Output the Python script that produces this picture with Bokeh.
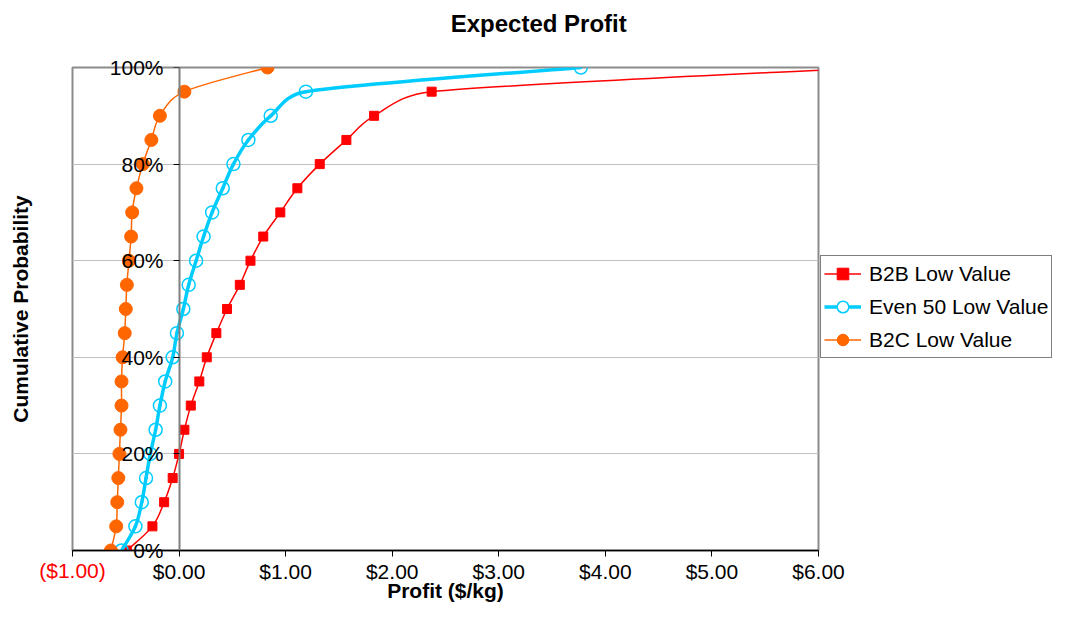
import math
from bokeh.plotting import figure
from bokeh.layouts import row
from bokeh.models import (Range1d, LinearAxis, FixedTicker, Grid, Legend, LegendItem,
                          ColumnDataSource)
from bokeh.embed import file_html
from bokeh.resources import INLINE

# ---------------- data ----------------
cum_prob = [0, 5, 10, 15, 20, 25, 30, 35, 40, 45, 50, 55, 60, 65, 70, 75, 80, 85, 90, 95, 100]

b2b_low = [-0.49, -0.25, -0.14, -0.06, 0.00, 0.05, 0.11, 0.19, 0.26, 0.35, 0.45,
           0.57, 0.67, 0.79, 0.95, 1.11, 1.32, 1.57, 1.83, 2.37, 6.50]
even50_low = [-0.54, -0.41, -0.35, -0.31, -0.27, -0.22, -0.18, -0.13, -0.06, -0.02, 0.04,
              0.09, 0.16, 0.23, 0.31, 0.41, 0.51, 0.65, 0.86, 1.19, 3.77]
b2c_low = [-0.64, -0.59, -0.58, -0.57, -0.56, -0.55, -0.54, -0.54, -0.53, -0.51, -0.50,
           -0.49, -0.47, -0.45, -0.44, -0.40, -0.34, -0.26, -0.18, 0.05, 0.83]

series_names = ["B2B Low Value", "Even 50 Low Value", "B2C Low Value"]
series_colors = ["#ff0000", "#00ccff", "#ff6600"]

x_ticks = [-1, 0, 1, 2, 3, 4, 5, 6]
x_tick_labels = ["($1.00)", "$0.00", "$1.00", "$2.00", "$3.00", "$4.00", "$5.00", "$6.00"]
y_ticks = [0, 20, 40, 60, 80, 100]
y_tick_labels = ["0%", "20%", "40%", "60%", "80%", "100%"]

chart_title = "Expected Profit"
x_title = "Profit ($/kg)"
y_title = "Cumulative Probability"

# ---------------- layout ----------------
W, H = 1052, 604
LEG_X, LEG_W = 820, 232                    # legend panel overlaid at the right
FL, FR, FT, FB = 72, 818, 67, 551          # frame edges in px
X0, X1 = -1, 6
Y0, Y1 = 0, 100
FONT = "Liberation Sans"
TICK_FS = "21px"

p = figure(width=W, height=H, output_backend="svg", toolbar_location=None, title=None,
           x_range=Range1d(X0, X1), y_range=Range1d(Y0, Y1),
           x_axis_location=None, y_axis_location=None,
           min_border_left=FL, min_border_right=W - FR, min_border_top=FT,
           min_border_bottom=H - FB,
           background_fill_color="white", border_fill_color="white")
p.center = [c for c in p.center if not isinstance(c, Grid)]

p.outline_line_color = "#8c8c8c"
p.outline_line_width = 2

# horizontal gridlines
p.add_layout(Grid(dimension=1, ticker=FixedTicker(ticks=y_ticks),
                  grid_line_color="#c0c0c0", grid_line_width=1))

# ---- chart title, centred over the whole chart (incl. legend) ----
SX = (FR - FL) / (X1 - X0)
SY = (FB - FT) / (Y1 - Y0)
title_x = 3.375  # data x under the centre of the full chart width
title_axis = LinearAxis(ticker=FixedTicker(ticks=[title_x]),
                        major_label_overrides={title_x: chart_title},
                        major_label_text_font=FONT, major_label_text_font_size="24px",
                        major_label_text_font_style="bold", major_label_text_color="black",
                        major_label_standoff=31,
                        axis_line_color=None, major_tick_line_color=None,
                        major_tick_in=0, major_tick_out=0, minor_tick_out=0, minor_tick_in=0)
p.add_layout(title_axis, "above")

# ---- x axis: row A carries ticks + red negative label ----
LBL_EXT = 25
xaxis_a = LinearAxis(ticker=FixedTicker(ticks=x_ticks),
                     major_label_overrides=dict(zip(x_ticks, x_tick_labels[:1] + [""] * 7)),
                     major_label_text_font=FONT, major_label_text_font_size=TICK_FS,
                     major_label_text_color="#ff0000", major_label_standoff=2,
                     axis_line_color="black", axis_line_width=1.5,
                     major_tick_line_color="black", major_tick_in=0, major_tick_out=6,
                     minor_tick_out=0, minor_tick_in=0)
p.add_layout(xaxis_a, "below")

# ---- x axis: row B carries the black labels (pulled up onto row A) + title ----
xaxis_b = LinearAxis(ticker=FixedTicker(ticks=x_ticks[1:]),
                     major_label_overrides=dict(zip(x_ticks[1:], x_tick_labels[1:])),
                     major_label_text_font=FONT, major_label_text_font_size=TICK_FS,
                     major_label_text_color="black", major_label_standoff=-LBL_EXT,
                     axis_line_color=None, major_tick_line_color=None,
                     major_tick_in=0, major_tick_out=0, minor_tick_out=0, minor_tick_in=0,
                     axis_label=x_title, axis_label_standoff=-7,
                     axis_label_text_font=FONT, axis_label_text_font_size="21px",
                     axis_label_text_font_style="bold", axis_label_text_color="black")
p.add_layout(xaxis_b, "below")

# ---- y axis line + ticks crossing at x = 0 ----
yaxis = LinearAxis(fixed_location=0, ticker=FixedTicker(ticks=y_ticks),
                   major_label_text_font_size="0px", major_label_text_color=None,
                   axis_line_color="#7f7f7f", axis_line_width=2,
                   major_tick_line_color="black", major_tick_in=0, major_tick_out=6,
                   minor_tick_out=0, minor_tick_in=0)
p.add_layout(yaxis, "left")

# ---- y axis title at the far left ----
YLAB_STANDOFF = 41
ylab = LinearAxis(ticker=FixedTicker(ticks=[]), axis_label=y_title,
                  axis_label_text_font=FONT, axis_label_text_font_size="21px",
                  axis_label_text_font_style="bold", axis_label_text_color="black",
                  axis_label_standoff=YLAB_STANDOFF, major_label_standoff=0,
                  axis_line_color=None, major_tick_out=0, major_tick_in=0,
                  minor_tick_out=0, minor_tick_in=0, major_label_text_font_size="0px")
p.add_layout(ylab, "left")

# ---- y tick labels: outer left axis whose labels are pushed inward to x = 0 ----
ylab_size = YLAB_STANDOFF + 26
ytl = LinearAxis(ticker=FixedTicker(ticks=y_ticks),
                 major_label_overrides=dict(zip(y_ticks, y_tick_labels)),
                 major_label_text_font=FONT, major_label_text_font_size=TICK_FS,
                 major_label_text_color="black",
                 major_label_standoff=-(163 - (FL - ylab_size)),
                 axis_line_color=None, major_tick_line_color=None,
                 major_tick_in=0, major_tick_out=0, minor_tick_out=0, minor_tick_in=0)
p.add_layout(ytl, "left")


# ---------------- smoothed lines (Excel-like smoothing) ----------------
def smooth_segments(xs, ys):
    n = len(xs)
    P = [(x * SX, y * SY) for x, y in zip(xs, ys)]

    def d(a, b):
        return math.hypot(a[0] - b[0], a[1] - b[1])

    out = dict(x0=[], y0=[], x1=[], y1=[], cx0=[], cy0=[], cx1=[], cy1=[])
    for i in range(n - 1):
        p0 = P[max(i - 1, 0)]
        p1 = P[i]
        p2_ = P[i + 1]
        p3 = P[min(i + 2, n - 1)]
        d12 = d(p1, p2_)
        d02 = d(p0, p2_)
        d13 = d(p1, p3)
        f1 = 1 / 6.0
        if d02 > 0 and d02 / 6.0 > d12 / 2.0:
            f1 = d12 / 2.0 / d02
        f2 = 1 / 6.0
        if d13 > 0 and d13 / 6.0 > d12 / 2.0:
            f2 = d12 / 2.0 / d13
        c1 = (p1[0] + (p2_[0] - p0[0]) * f1, p1[1] + (p2_[1] - p0[1]) * f1)
        c2 = (p2_[0] - (p3[0] - p1[0]) * f2, p2_[1] - (p3[1] - p1[1]) * f2)
        out["x0"].append(p1[0] / SX); out["y0"].append(p1[1] / SY)
        out["x1"].append(p2_[0] / SX); out["y1"].append(p2_[1] / SY)
        out["cx0"].append(c1[0] / SX); out["cy0"].append(c1[1] / SY)
        out["cx1"].append(c2[0] / SX); out["cy1"].append(c2[1] / SY)
    return ColumnDataSource(out)


styles = [
    dict(width=1.5, marker="square", msize=9, mfill="#ff0000", mlw=1, leg_fill="#ff0000"),
    dict(width=3.5, marker="circle", msize=13, mfill=None, mlw=1.5, leg_fill="white"),
    dict(width=1.5, marker="circle", msize=13, mfill="#ff6600", mlw=1, leg_fill="#ff6600"),
]
all_series = [b2b_low, even50_low, b2c_low]

for xs, color, st in zip(all_series, series_colors, styles):
    src = smooth_segments(xs, cum_prob)
    p.bezier(x0="x0", y0="y0", x1="x1", y1="y1", cx0="cx0", cy0="cy0",
             cx1="cx1", cy1="cy1", source=src, line_color=color,
             line_width=st["width"], line_cap="round")
    p.scatter(x=xs, y=cum_prob, marker=st["marker"], size=st["msize"],
              fill_color=st["mfill"], line_color=color, line_width=st["mlw"])

# ---------------- legend panel (transparent figure overlaid on the right) ----------------
p2 = figure(width=LEG_W, height=H, output_backend="svg", toolbar_location=None, title=None,
            x_range=Range1d(100, 101), y_range=Range1d(200, 201),
            x_axis_location=None, y_axis_location=None,
            min_border_left=0, min_border_right=0, min_border_top=0, min_border_bottom=0,
            outline_line_color=None, background_fill_color=None,
            border_fill_color=None)
p2.center = [c for c in p2.center if not isinstance(c, Grid)]
p2.margin = (0, 0, 0, LEG_X - W)

items = []
for name, xs, color, st in zip(series_names, all_series, series_colors, styles):
    rl = p2.line(x=xs, y=cum_prob, line_color=color, line_width=st["width"])
    rm = p2.scatter(x=xs, y=cum_prob, marker=st["marker"], size=st["msize"],
                    fill_color=st["leg_fill"], line_color=color, line_width=st["mlw"])
    items.append(LegendItem(label=name, renderers=[rl, rm]))

legend = Legend(items=items, location=(0, 192), margin=0, padding=3, spacing=4,
                glyph_width=37, glyph_height=29, label_standoff=8,
                label_text_font=FONT, label_text_font_size="21px",
                label_text_color="black",
                border_line_color="black", border_line_width=1,
                background_fill_color="white", background_fill_alpha=1)
p2.add_layout(legend)

layout = row(p, p2, spacing=0)

with open("out.html", "w") as f:
    f.write(file_html(layout, INLINE))
